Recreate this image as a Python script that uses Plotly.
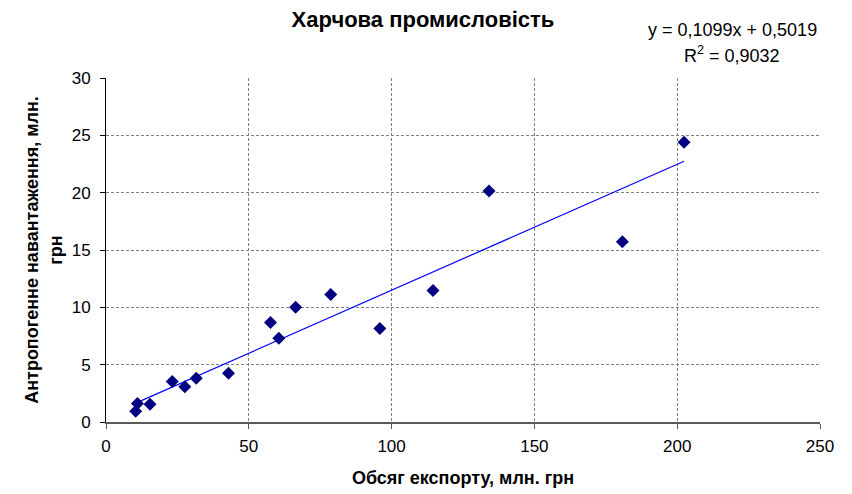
import plotly.graph_objects as go

export_volume = [10.4, 11.0, 15.4, 23.2, 27.6, 31.6, 42.9, 57.6, 60.5, 66.4, 78.7, 95.9, 114.5, 134.1, 180.8, 202.4]
anthropogenic_load = [0.93, 1.61, 1.55, 3.53, 3.07, 3.81, 4.25, 8.68, 7.31, 10.0, 11.13, 8.16, 11.47, 20.15, 15.72, 24.4]

trend_slope = 0.1099
trend_intercept = 0.5019
r_squared = "0,9032"

title_text = "Харчова промисловість"
x_title = "Обсяг експорту, млн. грн"
y_title = "Антропогенне навантаження, млн.<br>грн"
x_ticks = [0, 50, 100, 150, 200, 250]
y_ticks = [0, 5, 10, 15, 20, 25, 30]

FONT = "Liberation Sans, Arial, sans-serif"

# the page body adds an 8px margin, so the figure is 8px smaller each way
W, H = 844, 486
ML, MR, MT, MB = 98, 32, 70, 72
PW, PH = W - ML - MR, H - MT - MB

x_line = [min(export_volume), max(export_volume)]
y_line = [trend_slope * v + trend_intercept for v in x_line]

fig = go.Figure()
fig.add_trace(go.Scatter(
    x=x_line, y=y_line, mode="lines",
    line=dict(color="#0000FF", width=1.2), showlegend=False, hoverinfo="skip"))
fig.add_trace(go.Scatter(
    x=export_volume, y=anthropogenic_load, mode="markers",
    marker=dict(symbol="diamond", color="#000080", size=10, line=dict(width=0)),
    showlegend=False))

fig.update_layout(
    width=W, height=H,
    margin=dict(l=ML, r=MR, t=MT, b=MB, autoexpand=False),
    paper_bgcolor="white", plot_bgcolor="white",
    font=dict(family=FONT, color="black", size=17),
    title=dict(text="<b>" + title_text + "</b>", x=415 / W, xanchor="center",
               y=1 - 11 / H, yanchor="middle", automargin=False,
               font=dict(family=FONT, size=22, color="black")),
    xaxis=dict(range=[0, 250], tickvals=x_ticks, ticktext=[str(v) for v in x_ticks],
               showgrid=True, gridcolor="#808080", griddash="3px,2px", gridwidth=1,
               showline=True, linecolor="#5a5a5a", linewidth=2,
               ticks="outside", ticklen=5, tickcolor="#5a5a5a", tickwidth=1,
               ticklabelstandoff=3,
               zeroline=False, automargin=False,
               tickfont=dict(family=FONT, size=17, color="black"),
               title=dict(text="<b>" + x_title + "</b>", standoff=16,
                          font=dict(family=FONT, size=18, color="black"))),
    yaxis=dict(range=[0, 30], tickvals=y_ticks, ticktext=[str(v) for v in y_ticks],
               showgrid=True, gridcolor="#808080", griddash="3px,2px", gridwidth=1,
               showline=True, linecolor="black", linewidth=1,
               ticks="outside", ticklen=5, tickcolor="black", tickwidth=1,
               ticklabelstandoff=6,
               zeroline=False, automargin=False,
               tickfont=dict(family=FONT, size=17, color="black"),
               title=dict(text="<b>" + y_title + "</b>", standoff=4,
                          font=dict(family=FONT, size=18, color="black"))),
    annotations=[
        dict(text="y = 0,1099x + 0,5019", xref="paper", yref="paper",
             x=(724 - ML) / PW, y=(H - 22 - MB) / PH, xanchor="center", yanchor="middle",
             showarrow=False, font=dict(family=FONT, size=18, color="black")),
        dict(text="R<sup>2</sup> = " + r_squared, xref="paper", yref="paper",
             x=(724 - ML) / PW, y=(H - 46 - MB) / PH, xanchor="center", yanchor="middle",
             showarrow=False, font=dict(family=FONT, size=18, color="black")),
    ],
)

fig.write_html("out.html")
